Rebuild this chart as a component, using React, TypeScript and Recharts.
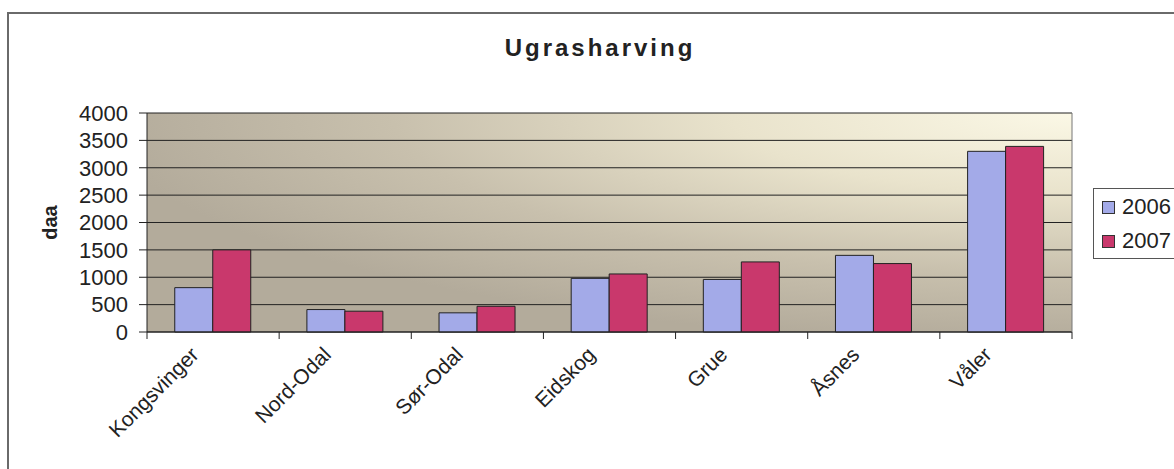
import React from "react";
import { BarChart, Bar, XAxis, YAxis, CartesianGrid, Legend } from "recharts";

const categories = ["Kongsvinger", "Nord-Odal", "Sør-Odal", "Eidskog", "Grue", "Åsnes", "Våler"];
const values2006 = [810, 410, 350, 980, 960, 1400, 3300];
const values2007 = [1500, 380, 470, 1060, 1280, 1250, 3390];
const yTicks = [0, 500, 1000, 1500, 2000, 2500, 3000, 3500, 4000];
const seriesNames = ["2006", "2007"];
const seriesColors = ["#a3aae8", "#c9386c"];

const FONT = '"Liberation Sans", Arial, sans-serif';

const data = categories.map((name, i) => ({
  name,
  "2006": values2006[i],
  "2007": values2007[i],
}));

// category label rotated, plus tick marks at the category boundaries
function XTick(props: any) {
  const { x, y, payload, index, width } = props;
  const half = width / (2 * categories.length);
  const lx = x - 13;
  const ly = y + 24;
  return (
    <g>
      <line x1={x - half} y1={y} x2={x - half} y2={y + 7} stroke="#222" />
      {index === categories.length - 1 && (
        <line x1={x + half} y1={y} x2={x + half} y2={y + 7} stroke="#222" />
      )}
      <text
        x={lx}
        y={ly}
        transform={`rotate(-45, ${lx}, ${ly})`}
        textAnchor="end"
        fontSize={21}
        fontFamily={FONT}
        fill="#222"
      >
        {payload.value}
      </text>
    </g>
  );
}

function LegendBox() {
  return (
    <div
      style={{
        border: "1px solid #555",
        background: "#fff",
        width: 100,
        height: 71,
        boxSizing: "border-box",
        paddingTop: 1,
        paddingLeft: 8,
        fontFamily: FONT,
      }}
    >
      {seriesNames.map((s, i) => (
        <div key={s} style={{ display: "flex", alignItems: "center", height: 34 }}>
          <span
            style={{
              width: 11,
              height: 11,
              background: seriesColors[i],
              border: "1px solid #333",
              marginRight: 7,
            }}
          />
          <span style={{ fontSize: 22, color: "#222" }}>{s}</span>
        </div>
      ))}
    </div>
  );
}

function YLabel(props: any) {
  const { viewBox } = props;
  const cx = 50;
  const cy = viewBox.y + viewBox.height / 2;
  return (
    <text
      x={cx}
      y={cy}
      transform={`rotate(-90, ${cx}, ${cy})`}
      textAnchor="middle"
      dominantBaseline="central"
      fontSize={20}
      fontWeight="bold"
      fontFamily={FONT}
      fill="#222"
    >
      daa
    </text>
  );
}

export default function App() {
  return (
    <div style={{ position: "absolute", left: 0, top: 0, width: 1174, height: 469, background: "#fff" }}>
      <div
        style={{
          position: "absolute",
          left: 7,
          top: 12,
          width: 1174,
          height: 469,
          borderTop: "2px solid #6a6a6a",
          borderLeft: "2px solid #6a6a6a",
        }}
      />
      <div
        style={{
          position: "absolute",
          left: 450,
          top: 33,
          width: 300,
          textAlign: "center",
          fontFamily: FONT,
          fontWeight: "bold",
          fontSize: 24,
          lineHeight: "30px",
          letterSpacing: 3,
          color: "#222",
        }}
      >
        Ugrasharving
      </div>
      <div style={{ position: "absolute", left: 0, top: 0 }}>
        <BarChart
          width={1174}
          height={469}
          data={data}
          margin={{ top: 113, right: 101, left: 0, bottom: 0 }}
          barCategoryGap="21%"
          barGap={0}
        >
          <defs>
            <radialGradient id="plotBg" cx="1" cy="0" r="1.05">
              <stop offset="0" stopColor="#fbf8e6" />
              <stop offset="0.35" stopColor="#e9e3cc" />
              <stop offset="0.7" stopColor="#c8c0ad" />
              <stop offset="1" stopColor="#b3ab9b" />
            </radialGradient>
          </defs>
          <CartesianGrid vertical={false} stroke="#222" fill="url(#plotBg)" fillOpacity={1} />
          <XAxis
            dataKey="name"
            height={137}
            tickLine={false}
            tickSize={0}
            tickMargin={0}
            axisLine={{ stroke: "#222" }}
            interval={0}
            tick={<XTick />}
          />
          <YAxis
            width={147}
            domain={[0, 4000]}
            ticks={yTicks}
            interval={0}
            tickSize={8}
            tickMargin={11}
            tickLine={{ stroke: "#222" }}
            axisLine={{ stroke: "#222" }}
            tick={{ fontSize: 22, fill: "#222", fontFamily: FONT }}
            label={<YLabel />}
          />
          <YAxis
            yAxisId="right"
            orientation="right"
            width={1}
            domain={[0, 4000]}
            tick={false}
            tickLine={false}
            axisLine={{ stroke: "#777" }}
          />
          <Legend
            layout="vertical"
            align="center"
            verticalAlign="middle"
            wrapperStyle={{ left: 1093, top: 188, width: 100 }}
            content={<LegendBox />}
          />
          {seriesNames.map((s, i) => (
            <Bar
              key={s}
              dataKey={s}
              fill={seriesColors[i]}
              stroke="#222"
              strokeWidth={1}
              isAnimationActive={false}
            />
          ))}
        </BarChart>
      </div>
    </div>
  );
}
